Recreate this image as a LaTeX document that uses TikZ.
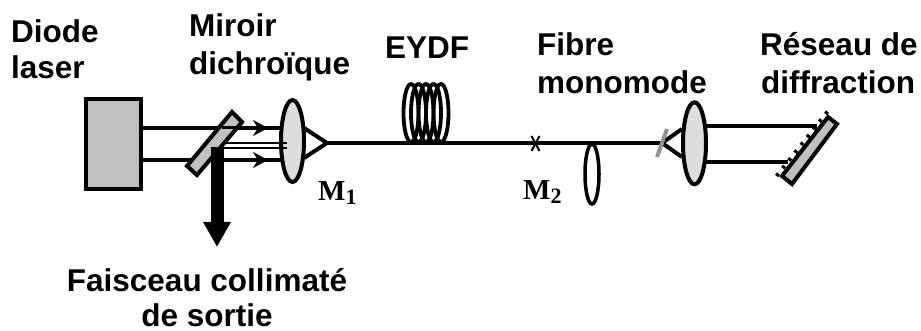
\documentclass[tikz,border=0pt]{standalone}
\usepackage{fontspec}
\setmainfont{Liberation Sans}
\newfontfamily\serifbf{Liberation Serif}
\usetikzlibrary{arrows.meta,shapes.geometric,calc}
\definecolor{boxgray}{HTML}{C0C0C0}
\definecolor{lensgray}{HTML}{DDDDDD}
\tikzset{
  x=1pt,y=-1pt,
  ln/.style={line width=4pt,draw=black},
  thin beam/.style={line width=2.2pt,draw=black},
  beam tip/.style={line width=2pt,-{Stealth[length=15pt,width=16pt,inset=5pt]}},
  coilring/.style={draw=black,line width=3.8pt,ellipse,minimum width=15pt,minimum height=58pt,inner sep=0pt},
  lensbig/.style={ln,fill=lensgray,ellipse,minimum width=23pt,minimum height=82pt,inner sep=0pt},
  lab/.style={font=\fontsize{31.5}{31.5}\selectfont\bfseries,inner sep=0pt,anchor=base west},
  mlab/.style={font=\fontsize{29}{29}\selectfont\serifbf\bfseries,inner sep=0pt,anchor=base west},
}
\begin{document}
\begin{tikzpicture}
\useasboundingbox (0,0) rectangle (921,331);
% named points
\coordinate (apexL) at (327,143);
\coordinate (apexR) at (662,143);
\coordinate (boxT) at (142,128);
\coordinate (boxB) at (142,160);
\coordinate (lensLT) at (281,128);
\coordinate (lensLB) at (281,160);
\coordinate (aT) at (268,128);
\coordinate (aB) at (268,160);
\coordinate (bT) at (250,128);
\coordinate (bB) at (250,160);
\coordinate (triLT) at (304,128);
\coordinate (triLB) at (304,158);
\coordinate (triRT) at (682,129);
\coordinate (triRB) at (682,157);
\coordinate (lensRT) at (705,126);
\coordinate (lensRB) at (705,162);
\coordinate (grT) at (817,126);
\coordinate (grB) at (788,162);
% fibre
\draw[ln] (apexL) -- (apexR);
% beams from the diode
\draw[ln] (boxT) -- (lensLT);
\draw[ln] (boxB) -- (lensLB);
\draw[beam tip] (bT) -- (aT);
\draw[beam tip] (bB) -- (aB);
% diode
\node[ln,fill=boxgray,minimum width=55pt,minimum height=90pt,inner sep=0pt] (diode) at (113.5,144) {};
% mirror
\draw[ln,fill=boxgray,line join=miter] (232,112) -- (242,122) -- (197,175) -- (187,166) -- cycle;
% beam seen through the mirror
\coordinate (mT1) at (222,128); \coordinate (mT2) at (240,128);
\draw[line width=3pt] (mT1) -- (mT2);
% output arrow
\coordinate (outS) at (217,147);
\coordinate (outE) at (217,247);
\draw[line width=13pt,-{Triangle[length=25pt,width=26pt]}] (outS) -- (outE);
% left lens
\draw[ln,line join=miter] (triLT) -- (apexL) -- (triLB);
\node[lensbig] (lensL) at (292.5,141) {};
% returning beams
\coordinate (retA) at (223,143);
\coordinate (retB) at (223,148);
\coordinate (retAe) at (287,143);
\coordinate (retBe) at (287,148);
\draw[thin beam] (retA) -- (retAe);
\draw[thin beam] (retB) -- (retBe);
% coil
\foreach \c/\n in {411/a,418.5/b,426/c,433.5/d,441/e}
  \node[coilring] (coil\n) at (\c,113) {};
% splice
\coordinate (xA) at (531.5,136); \coordinate (xB) at (539.5,151);
\coordinate (xC) at (539.5,136); \coordinate (xD) at (531.5,151);
\draw[line width=2pt] (xA) -- (xB);
\draw[line width=2pt] (xC) -- (xD);
% small lens
\node[draw=black,line width=3.5pt,ellipse,minimum width=14pt,minimum height=60pt,inner sep=0pt] (lensS) at (592,174) {};
% right lens
\draw[ln,line join=miter] (triRT) -- (apexR) -- (triRB);
\coordinate (gA) at (667,129); \coordinate (gB) at (657,157);
\draw[line width=4pt,draw=gray!85] (gA) -- (gB);
\draw[ln] (lensRT) -- (grT);
\draw[ln] (lensRB) -- (grB);
\node[lensbig] (lensR) at (694.5,143.3) {};
% grating
\draw[ln,fill=boxgray,line join=miter] (828,117) -- (837,124) -- (792,184) -- (782,176) -- cycle;
\foreach \t in {0,0.125,...,1.0}
  \draw[line width=3pt] ($(828,114)!\t!(779,176)$) -- ++(-3,-2.4);
% labels
\node[lab] (t1) at (11,43) {Diode};
\node[lab] (t2) at (11,79) {laser};
\node[lab] (t3) at (189,37) {Miroir};
\node[lab] (t4) at (189,75) {dichroïque};
\node[lab] (t5) at (385,59) {EYDF};
\node[lab] (t6) at (537,56) {Fibre};
\node[lab] (t7) at (537,94) {monomode};
\node[lab] (t8) at (760,56) {Réseau de};
\node[lab] (t9) at (761,94) {diffraction};
\node[lab,anchor=base] (t10) at (207,291) {Faisceau collimaté};
\node[lab,anchor=base] (t11) at (207,326) {de sortie};
\node[mlab] (m1) at (318,201) {M\raisebox{-4pt}{\fontsize{22}{22}\selectfont 1}};
\node[mlab] (m2) at (523,200) {M\raisebox{-4pt}{\fontsize{22}{22}\selectfont 2}};
\end{tikzpicture}
\end{document}
